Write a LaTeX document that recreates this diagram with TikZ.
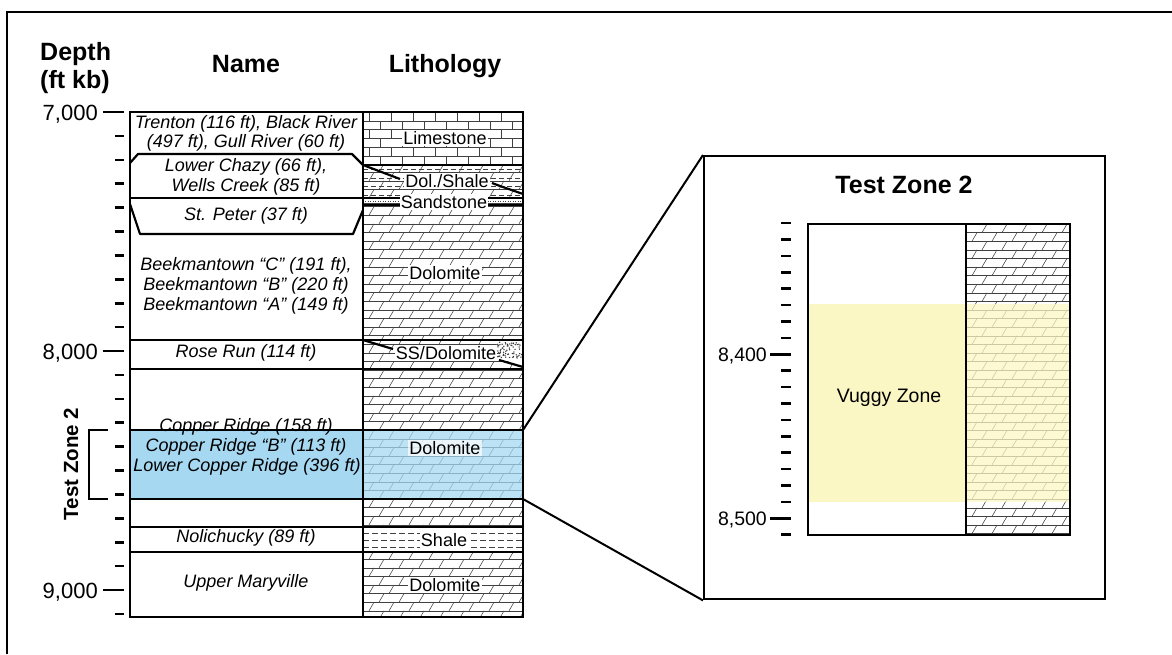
\documentclass[tikz,border=0pt]{standalone}
\usepackage{fontspec}
\setmainfont{Liberation Sans}
\definecolor{tzblue}{RGB}{166,216,242}
\definecolor{vugyel}{RGB}{251,247,196}
\tikzset{
  patline/.style={line width=0.55pt, draw=black!75},
  head/.style={font=\fontsize{25}{29}\selectfont\bfseries, inner sep=0pt},
  depthlab/.style={font=\fontsize{22}{26}\selectfont, inner sep=0pt},
  smalldepth/.style={font=\fontsize{19.5}{22}\selectfont, inner sep=0pt},
  unitname/.style={font=\fontsize{18}{20}\selectfont\itshape, inner sep=0pt},
  litholab/.style={font=\fontsize{18}{20}\selectfont, fill=white, inner sep=1.2pt},
  bnd/.style={line width=2.2pt, line join=round},
  tick/.style={line width=2.6pt},
}
\newcommand{\dolopat}[4]{%
\begin{scope}
\clip (#1,#2) rectangle (#3,#4);
\pgfmathtruncatemacro\nrows{(#4-#2)/8.6+1}
\foreach \i in {0,...,\nrows}{%
 \pgfmathsetmacro\yy{#2+\i*8.6}%
 \pgfmathsetmacro\yb{\yy+8.6}%
 \draw[patline] (#1,\yy) -- (#3,\yy);
 \foreach \j in {0,...,9}{%
  \pgfmathsetmacro\xx{#1+\j*20+mod(\i,2)*10-4}%
  \draw[patline] (\xx,\yb) -- (\xx+5,\yy);
 }
}
\end{scope}}
\newcommand{\limepat}[4]{%
\begin{scope}
\clip (#1,#2) rectangle (#3,#4);
\fill[white] (#1,#2) rectangle (#3,#4);
\pgfmathtruncatemacro\nrows{(#4-#2)/8.8+1}
\foreach \i in {0,...,\nrows}{%
 \pgfmathsetmacro\yy{#2+\i*8.8}%
 \pgfmathsetmacro\yb{\yy+8.8}%
 \draw[patline] (#1,\yy) -- (#3,\yy);
 \foreach \j in {0,...,8}{%
  \pgfmathsetmacro\xx{#1+\j*22+mod(\i,2)*11+6}%
  \draw[patline] (\xx,\yb) -- (\xx,\yy);
 }
}
\end{scope}}
\begin{document}
\begin{tikzpicture}[x=1pt,y=-1pt]
\useasboundingbox (0,0) rectangle (1172,654);
% outer frame
\draw[line width=2.6pt] (7,654) -- (7,12) -- (1172,12);

% ---------- headings ----------
\node[head, anchor=base west] (hdepth) at (40,60) {Depth};
\node[head, anchor=base west] (hftkb) at (40,88) {(ft kb)};
\node[head, anchor=base] (hname) at (246,72) {Name};
\node[head, anchor=base] (hlith) at (445,72) {Lithology};

% ---------- lithology patterns ----------
\dolopat{363}{112}{523}{617}
\limepat{363}{112}{523}{165}
% dol./shale: dashed lines between rows
\foreach \yy in {169.3,177.9,186.5,195.1}{
  \draw[patline, dash pattern=on 5pt off 3pt] (363,\yy) -- (523,\yy);
}
% sandstone
\fill[white] (363,198) rectangle (523,205);
\draw[patline, line width=1pt, dash pattern=on 1.2pt off 1.3pt] (365,201.5) -- (523,201.5);
\draw[patline] (363,203.5) -- (523,203.5);
% SS/Dolomite sand dots
\fill[white] (496,341) -- (523,341) -- (523,366) -- (500,359) -- cycle;
\pgfmathsetseed{7}
\foreach \k in {1,...,70}{
  \pgfmathsetmacro\dx{497+25*rnd}
  \pgfmathsetmacro\dy{342+16*rnd}
  \fill[black!80] (\dx,\dy) circle (0.75);
}
% shale
\fill[white] (363,527) rectangle (523,552);
\foreach \yy in {533,540,547}{
  \draw[patline, dash pattern=on 6pt off 3pt] (363,\yy) -- (523,\yy);
}

% ---------- Test Zone 2 highlight ----------
\fill[tzblue] (130,430) rectangle (363,499);
\fill[tzblue, fill opacity=0.75] (363,430) rectangle (523,499);

% ---------- boundaries ----------
\draw[bnd] (130,163) -- (138,154) -- (352,154) -- (363,165) -- (400,179);
\draw[bnd] (363,165) -- (523,165);
\draw[bnd] (492,183) -- (500,186) -- (523,194);
\draw[bnd] (130,198) -- (523,198);
\draw[line width=1.4pt] (363,205) -- (523,205);
\draw[bnd] (130,204) -- (140,234) -- (353,234) -- (363,210);
\draw[bnd] (130,340) -- (523,340);
\draw[bnd] (363,340) -- (393,349);
\draw[bnd] (499,360) -- (523,367);
\draw[bnd] (130,369) -- (523,369);
\draw[bnd] (130,430) -- (523,430);
\draw[bnd] (130,499) -- (523,499);
\draw[bnd] (130,527) -- (523,527);
\draw[bnd] (130,552) -- (523,552);
% column frames
\draw[line width=2.4pt] (130,112) rectangle (363,617);
\draw[line width=2.4pt] (363,112) rectangle (523,617);

% ---------- depth ticks ----------
\foreach \i in {0,...,21}{
  \pgfmathsetmacro\ty{112+\i*23.9}
  \draw[tick] (115,\ty) -- (124,\ty);
}
\draw[tick] (103,112) -- (124,112);
\draw[tick] (103,351) -- (124,351);
\draw[tick] (103,590) -- (124,590);
\node[depthlab, anchor=base east] (d7000) at (98,120) {7,000};
\node[depthlab, anchor=base east] (d8000) at (98,359) {8,000};
\node[depthlab, anchor=base east] (d9000) at (98,598) {9,000};

% bracket and vertical label
\draw[line width=2.2pt] (108,430) -- (89,430) -- (89,499) -- (108,499);
\node[font=\fontsize{20.5}{24}\selectfont\bfseries, rotate=90, inner sep=0pt] (tzlab) at (71,464) {Test Zone 2};

% ---------- unit names ----------
\node[unitname] (n1) at (246,124) {Trenton (116 ft), Black River};
\node[unitname] (n2) at (246,143) {(497 ft), Gull River (60 ft)};
\node[unitname] (n3) at (246,167) {Lower Chazy (66 ft),};
\node[unitname] (n4) at (246,187) {Wells Creek (85 ft)};
\node[unitname] (n5) at (246,216) {St. Peter (37 ft)};
\node[unitname] (n6) at (246,266) {Beekmantown “C” (191 ft),};
\node[unitname] (n7) at (246,286) {Beekmantown “B” (220 ft)};
\node[unitname] (n8) at (246,306) {Beekmantown “A” (149 ft)};
\node[unitname] (n9) at (246,353) {Rose Run (114 ft)};
\node[unitname] (n10) at (246,427) {Copper Ridge (158 ft)};
\node[unitname] (n11) at (246,447) {Copper Ridge “B” (113 ft)};
\node[unitname] (n12) at (247,467) {Lower Copper Ridge (396 ft)};
\node[unitname] (n13) at (246,538) {Nolichucky (89 ft)};
\node[unitname] (n14) at (246,583) {Upper Maryville};

% ---------- lithology labels ----------
\node[litholab] (l1) at (445,138) {Limestone};
\node[litholab] (l2) at (447,181) {Dol./Shale};
\node[litholab] (l3) at (444,202) {Sandstone};
\node[litholab] (l4) at (445,273) {Dolomite};
\node[litholab] (l5) at (446,353) {SS/Dolomite};
\node[litholab, fill opacity=0.7, text opacity=1] (l6) at (445,448) {Dolomite};
\node[litholab] (l7) at (444,540) {Shale};
\node[litholab] (l8) at (445,585) {Dolomite};

% ---------- zoom panel ----------
\node[draw, line width=2.4pt, minimum width=401pt, minimum height=443pt, anchor=north west, inner sep=0pt] (panel) at (703,155) {};
\coordinate (tzTop) at (523,430);
\coordinate (tzBot) at (523,499);
\draw[line width=2pt] (tzTop) -- (panel.north west);
\draw[line width=2pt] (tzBot) -- (panel.south west);

\node[head, anchor=base] (ptitle) at (904,193) {Test Zone 2};

\dolopat{966}{224}{1070}{535}
\fill[vugyel] (808,304) rectangle (966,502);
\fill[vugyel, fill opacity=0.75] (966,304) rectangle (1070,502);
\draw[line width=2.4pt] (808,224) rectangle (966,535);
\draw[line width=2.4pt] (966,224) rectangle (1070,535);

\foreach \i in {0,...,19}{
  \pgfmathsetmacro\ty{223+\i*16.4}
  \draw[tick] (781,\ty) -- (791,\ty);
}
\draw[tick] (770,354.2) -- (791,354.2);
\draw[tick] (770,518.2) -- (791,518.2);
\node[smalldepth, anchor=base east] (p8400) at (767,361.2) {8,400};
\node[smalldepth, anchor=base east] (p8500) at (767,525.2) {8,500};
\node[font=\fontsize{19.5}{22}\selectfont, inner sep=0pt] (vuggy) at (889,398) {Vuggy Zone};
\end{tikzpicture}
\end{document}
